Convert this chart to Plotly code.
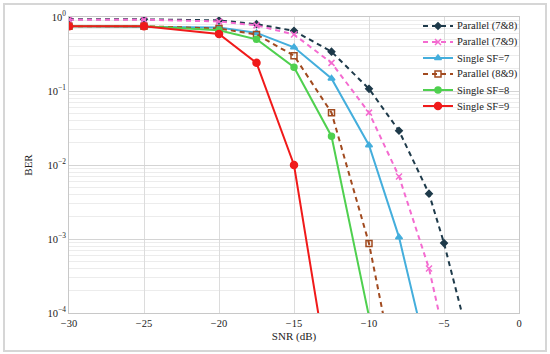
import plotly.graph_objects as go

# ---- data ----
snr_p78 = [-30, -25, -20, -17.5, -15, -12.5, -10, -8, -6, -5, -3]
ber_p78 = [0.93, 0.93, 0.90, 0.80, 0.65, 0.34, 0.107, 0.029, 0.0041, 0.00088, 0.000023]

snr_p79 = [-30, -25, -20, -17.5, -15, -12.5, -10, -8, -6, -5]
ber_p79 = [0.92, 0.92, 0.87, 0.77, 0.58, 0.24, 0.051, 0.007, 0.0004, 0.00005]

snr_s7 = [-30, -25, -20, -17.5, -15, -12.5, -10, -8, -6]
ber_s7 = [0.75, 0.74, 0.72, 0.61, 0.39, 0.148, 0.0185, 0.00106, 0.000021]

snr_p89 = [-30, -25, -20, -17.5, -15, -12.5, -10, -8]
ber_p89 = [0.75, 0.75, 0.70, 0.58, 0.30, 0.051, 0.00087, 0.000008]

snr_s8 = [-30, -25, -20, -17.5, -15, -12.5, -10]
ber_s8 = [0.75, 0.75, 0.66, 0.50, 0.21, 0.0245, 0.00009]

snr_s9 = [-30, -25, -20, -17.5, -15, -12.5]
ber_s9 = [0.75, 0.75, 0.59, 0.24, 0.010, 0.000008]

series_names = ["Parallel (7&8)", "Parallel (7&9)", "Single SF=7",
                "Parallel (8&9)", "Single SF=8", "Single SF=9"]

x_ticks = [-30, -25, -20, -15, -10, -5, 0]
y_tickvals = [1, 0.1, 0.01, 0.001, 0.0001]
y_ticktext = ["10<sup>0</sup>", "10<sup>−1</sup>", "10<sup>−2</sup>",
              "10<sup>−3</sup>", "10<sup>−4</sup>"]

FONT = "Liberation Serif"
DASH = "5px,4px"

styles = [
    (snr_p78, ber_p78, "#1e3a4a", DASH, "diamond", 5),
    (snr_p79, ber_p79, "#f46bd0", DASH, "x-thin", 6),
    (snr_s7, ber_s7, "#44aedc", "solid", "triangle-up", 6),
    (snr_p89, ber_p89, "#a14a1f", DASH, "square-open", 6),
    (snr_s8, ber_s8, "#4fd04f", "solid", "circle", 6),
    (snr_s9, ber_s9, "#f01a1a", "solid", "circle", 7),
]

fig = go.Figure()

for name, (xs, ys, col, dash, sym, msz) in zip(series_names, styles):
    fig.add_trace(go.Scatter(
        x=xs, y=ys, name=name, mode="lines+markers", showlegend=False,
        line=dict(color=col, width=2, dash=dash),
        marker=dict(symbol=sym, size=msz, color=col,
                    line=dict(color=col, width=1.5)),
    ))

# ---- manual legend on a pixel-scaled overlay axis pair ----
LEG_X0, LEG_XM, LEG_X1, LEG_TX = 423, 438, 453, 455
LEG_Y0, LEG_DY = 26, 16
annotations = []
for i, (name, (xs, ys, col, dash, sym, msz)) in enumerate(zip(series_names, styles)):
    yy = LEG_Y0 + i * LEG_DY
    fig.add_trace(go.Scatter(
        x=[LEG_X0, LEG_X1], y=[yy, yy], mode="lines", xaxis="x2", yaxis="y2",
        line=dict(color=col, width=2, dash=dash), showlegend=False,
        hoverinfo="skip", cliponaxis=False,
    ))
    fig.add_trace(go.Scatter(
        x=[LEG_XM], y=[yy], mode="markers", xaxis="x2", yaxis="y2",
        marker=dict(symbol=sym, size=msz, color=col,
                    line=dict(color=col, width=1.5)),
        showlegend=False, hoverinfo="skip", cliponaxis=False,
    ))
    annotations.append(dict(
        x=LEG_TX, y=yy, xref="x2", yref="y2", text=name, showarrow=False,
        xanchor="left", yanchor="middle", font=dict(family=FONT, size=10.5, color="#222"),
    ))

fig.update_layout(
    width=550, height=354,
    margin=dict(l=69, r=31, t=17, b=41, autoexpand=False),
    paper_bgcolor="white", plot_bgcolor="white",
    font=dict(family=FONT, size=10.5, color="#222"),
    showlegend=False,
    annotations=annotations,
    shapes=[dict(type="rect", xref="paper", yref="paper",
                 x0=(4 - 69) / 450, x1=(546 - 69) / 450,
                 y0=(313 - 351) / 296, y1=(313 - 4) / 296,
                 line=dict(color="#d6d6d6", width=2), layer="below")],
    xaxis=dict(
        range=[-30, 0], tickvals=x_ticks, ticks="", automargin=False,
        showgrid=True, gridcolor="#dcdcdc", gridwidth=1,
        showline=True, linecolor="#c8c8c8", linewidth=1, mirror=True,
        zeroline=False, tickfont=dict(family=FONT, size=10.5),
        title=dict(text="SNR (dB)", font=dict(family=FONT, size=11), standoff=4),
    ),
    yaxis=dict(
        type="log", range=[-4, 0], tickvals=y_tickvals, ticktext=y_ticktext,
        ticks="", showgrid=True, gridcolor="#d4d4d4", gridwidth=1, automargin=False,
        minor=dict(dtick="D1", showgrid=True, gridcolor="#ececec", ticks=""),
        showline=True, linecolor="#c8c8c8", linewidth=1, mirror=True,
        zeroline=False, tickfont=dict(family=FONT, size=10.5),
        title=dict(text="BER", font=dict(family=FONT, size=11), standoff=12),
    ),
    xaxis2=dict(overlaying="x", range=[69, 519], visible=False, fixedrange=True),
    yaxis2=dict(overlaying="y", range=[313, 17], visible=False, fixedrange=True),
)

fig.write_html("out.html", config={"displayModeBar": False},
               post_script="document.body.style.margin='0';")
